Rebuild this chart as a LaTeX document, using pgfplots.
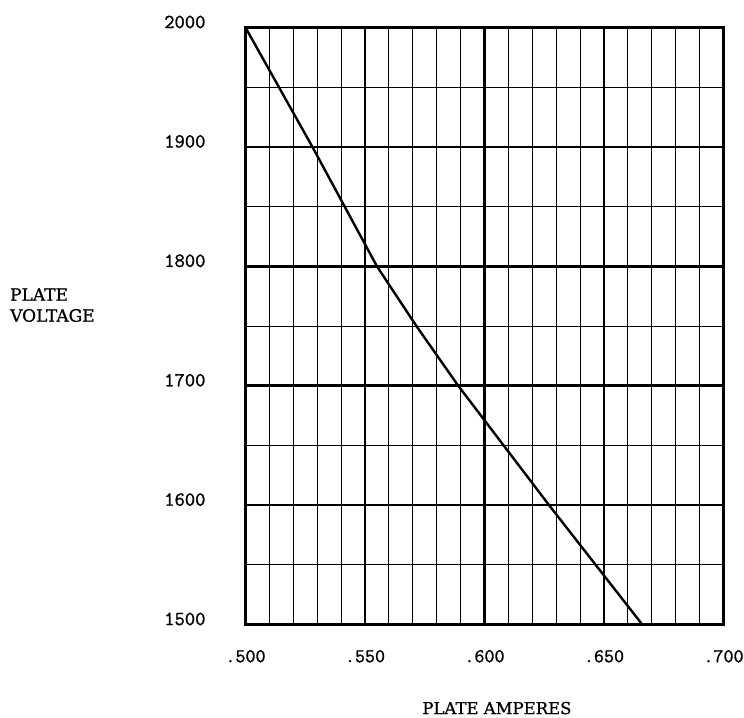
\documentclass[border=0pt]{standalone}
\usepackage{fontspec}
\setmainfont{DejaVu Serif}
\newfontfamily\labfont[FakeBold=0.8]{DejaVu Serif}
\newfontfamily\tickfont[FakeBold=1.2]{lmmono12-regular.otf}
\usepackage{pgfplots}
\pgfplotsset{compat=1.18}
\begin{document}
\begin{tikzpicture}
\begin{axis}[
  scale only axis,
  width=478pt, height=597pt,
  xmin=0.5, xmax=0.7, ymin=1500, ymax=2000,
  xtick={0.5,0.55,0.6,0.65,0.7},
  xticklabels={.500,.550,.600,.650,.700},
  ytick={1500,1600,1700,1800,1900,2000},
  yticklabels={1500,1600,1700,1800,1900,2000},
  minor x tick num=4,
  minor y tick num=1,
  major tick length=0pt, minor tick length=0pt,
  grid=both,
  major grid style={black, line width=2.6pt},
  minor grid style={black, line width=1.0pt},
  axis line style={black, line width=2.8pt},
  yticklabel style={font=\fontsize{20}{20}\tickfont, xshift=-36.5pt, yshift=5.5pt},
  xticklabel style={font=\fontsize{19.5}{19.5}\tickfont, yshift=-22pt, inner xsep=0pt},
  clip=false,
]
\addplot[black, line width=2.4pt] coordinates {
  (0.500,2000) (0.528,1900) (0.5415,1850) (0.555,1800) (0.5715,1750) (0.589,1700)
  (0.608,1650) (0.627,1600) (0.6465,1550) (0.666,1500)
};
\node[anchor=west, align=left, inner sep=0pt, font=\fontsize{17}{21}\labfont]
  at (rel axis cs:-0.4927,0.535) {PLATE\\VOLTAGE};
\node[font=\fontsize{16.5}{20}\labfont] at (rel axis cs:0.526,-0.140) {PLATE AMPERES};
\path (rel axis cs:-0.5136,-0.1549) rectangle (rel axis cs:1.0429,1.0461);
\end{axis}
\end{tikzpicture}
\end{document}
